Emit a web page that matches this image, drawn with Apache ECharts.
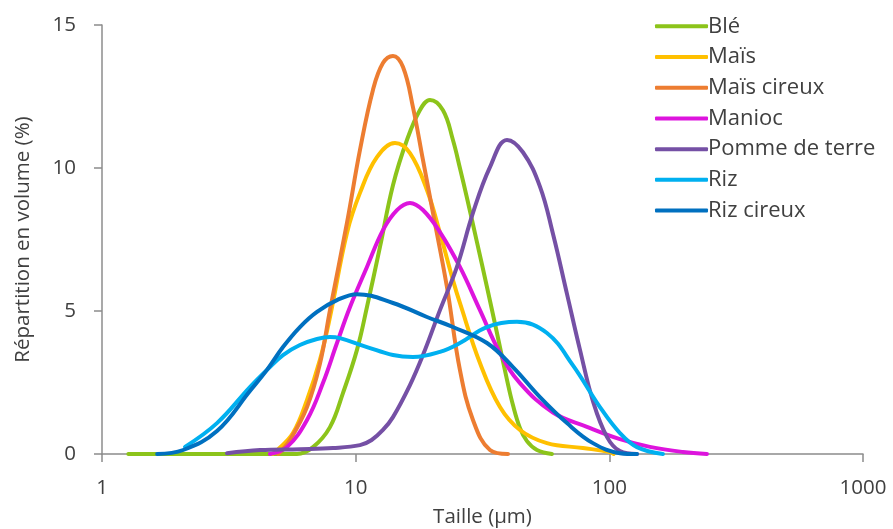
<!DOCTYPE html>
<html>
<head>
<meta charset="utf-8">
<script src="https://cdn.jsdelivr.net/npm/echarts@6/dist/echarts.min.js"></script>
<style>html,body{margin:0;padding:0;background:#fff}#c{width:893px;height:529px}</style>
</head>
<body>
<div id="c"></div>
<script>
// Names of the series (legend order)
var seriesNames = ["Blé", "Maïs", "Maïs cireux", "Manioc", "Pomme de terre", "Riz", "Riz cireux"];
var seriesColors = ["#8CC41A", "#FFC000", "#ED7D31", "#DD14DD", "#7550A5", "#00B0F0", "#0070C0"];

// [taille (µm), répartition en volume (%)]
var ble = [[1.27,0],[2.43,0],[4.2,0],[5.87,0],[6.79,0.24],[7.92,0.94],[8.91,2.13],[10.12,3.64],[11.08,5.14],[12.47,7.24],[14.03,9.4],[15.93,10.98],[17.93,12.03],[19.63,12.38],[22.09,12.02],[24.18,10.98],[25.76,10.0],[27.47,8.95],[30.07,7.41],[32.93,5.84],[36.06,4.23],[39.5,2.59],[41.69,1.71],[44.42,0.91],[47.34,0.45],[51.84,0.14],[59.39,0]];
var mais = [[4.7,0],[4.89,0.12],[5.66,0.73],[6.43,1.89],[7.23,3.29],[7.92,4.79],[9.24,7.73],[10.4,9.13],[12.13,10.38],[14.29,10.87],[16.37,10.52],[19.1,9.23],[21.49,7.73],[24.18,6.08],[25.76,5.28],[30.9,3.18],[37.06,1.64],[44.42,0.84],[56.76,0.38],[78.69,0.21],[100.5,0.07],[104,0]];
var maisCireux = [[4.95,0],[5.51,0.49],[6.43,1.64],[7.23,3.15],[7.92,5.03],[9.24,8.08],[10.4,10.63],[11.7,12.73],[12.81,13.67],[14.03,13.92],[15.37,13.53],[16.82,12.13],[18.42,10.28],[20.17,8.43],[22.9,5.84],[25.76,2.94],[29.0,1.19],[33.84,0.14],[39.86,0]];
var manioc = [[4.59,0],[5.36,0.24],[6.43,1.19],[7.43,2.48],[8.44,3.88],[9.5,5.14],[11.08,6.54],[12.81,7.83],[14.55,8.53],[16.37,8.78],[18.42,8.53],[21.49,7.76],[25.76,6.54],[30.9,5.03],[37.06,3.53],[44.42,2.48],[59.94,1.45],[81.6,0.95],[110.1,0.52],[144.5,0.25],[195,0.07],[242.5,0]];
var pommeDeTerre = [[3.11,0.03],[4.2,0.14],[6.03,0.17],[8.14,0.21],[10.4,0.31],[11.56,0.49],[12.81,0.84],[14.03,1.29],[16.37,2.41],[18.42,3.46],[21.49,5.03],[25.07,6.54],[29.0,8.43],[33.84,10.03],[39.5,10.98],[45.65,10.55],[53.28,9.35],[59.94,7.7],[68.08,5.6],[76.58,3.65],[86.17,1.85],[97.84,0.6],[110.1,0.1],[128.5,0]];
var riz = [[2.125,0.25],[2.84,1.08],[3.83,2.34],[4.47,2.94],[5.17,3.46],[6.03,3.81],[7.04,4.02],[7.92,4.09],[8.67,4.05],[11.08,3.74],[14.03,3.46],[16.82,3.39],[21.49,3.57],[25.76,3.88],[32.93,4.44],[43.23,4.62],[56.76,4.23],[71.87,3.1],[91.83,1.64],[110.1,0.73],[128.5,0.24],[162.7,0]];
var rizCireux = [[1.65,0],[2.09,0.14],[2.84,0.8],[3.83,2.2],[4.47,2.94],[5.17,3.74],[6.03,4.44],[7.04,4.97],[8.44,5.38],[10.12,5.59],[14.03,5.28],[19.1,4.79],[24.18,4.44],[32.93,3.88],[41.69,3.04],[53.28,1.99],[68.08,1.08],[86.17,0.38],[110.1,0.03],[128.5,0]];

var xTicks = [1, 10, 100, 1000];
var yTicks = [0, 5, 10, 15];

var allData = [ble, mais, maisCireux, manioc, pommeDeTerre, riz, rizCireux];
var FONT = "Open Sans";
var TXT = "#404040";
var AX = "#8c8c8c";

var chart = echarts.init(document.getElementById('c'), null, {renderer: 'canvas'});
chart.setOption({
  animation: false,
  backgroundColor: '#ffffff',
  textStyle: {fontFamily: FONT},
  grid: {left: 102, right: 30, top: 25, bottom: 75, containLabel: false, outerBoundsMode: 'none'},
  legend: {
    orient: 'vertical',
    left: 650,
    top: 6,
    icon: 'roundRect',
    itemWidth: 53,
    itemHeight: 4,
    itemGap: 0,
    textStyle: {fontFamily: FONT, fontSize: 22, color: TXT, lineHeight: 30.7, padding: [0,0,0,-5]},
    data: seriesNames
  },
  xAxis: {
    type: 'log',
    logBase: 10,
    min: xTicks[0],
    max: xTicks[xTicks.length - 1],
    name: 'Taille (µm)',
    nameLocation: 'middle',
    nameGap: 53,
    nameTextStyle: {fontFamily: FONT, fontSize: 20.5, color: TXT},
    axisLine: {show: true, onZero: false, lineStyle: {color: AX, width: 1.5}},
    axisTick: {show: true, length: 8, lineStyle: {color: AX, width: 1.5}},
    axisLabel: {fontFamily: FONT, fontSize: 20.5, color: TXT, margin: 24,
      formatter: function (v) { return String(Math.round(v)); }},
    splitLine: {show: false},
    minorTick: {show: false}
  },
  yAxis: {
    type: 'value',
    min: yTicks[0],
    max: yTicks[yTicks.length - 1],
    interval: 5,
    name: 'Répartition en volume (%)',
    nameLocation: 'middle',
    nameGap: 68,
    nameTextStyle: {fontFamily: FONT, fontSize: 20.5, color: TXT},
    axisLine: {show: true, lineStyle: {color: AX, width: 1.5}},
    axisTick: {show: true, length: 8, lineStyle: {color: AX, width: 1.5}},
    axisLabel: {fontFamily: FONT, fontSize: 20.5, color: TXT, margin: 26},
    splitLine: {show: false}
  },
  series: seriesNames.map(function (n, i) {
    return {
      name: n,
      type: 'line',
      data: allData[i],
      smooth: 0.4,
      showSymbol: false,
      symbol: 'none',
      color: seriesColors[i],
      itemStyle: {color: seriesColors[i]},
      lineStyle: {color: seriesColors[i], width: 4, cap: 'round', join: 'round'},
      clip: false
    };
  })
});
</script>
</body>
</html>
